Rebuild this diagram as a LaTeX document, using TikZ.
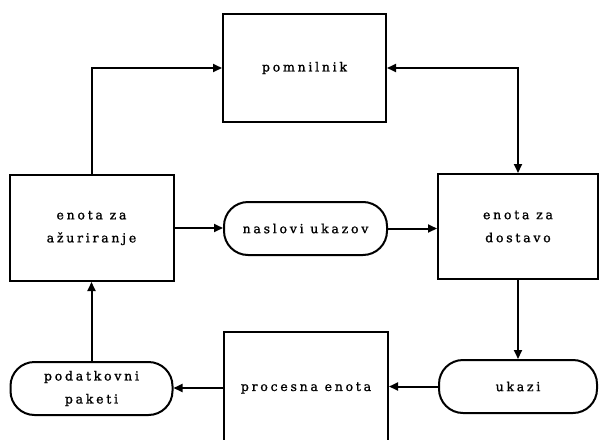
\documentclass[tikz,border=0pt]{standalone}
\usepackage{fontspec}
\setmainfont{DejaVu Serif}[LetterSpace=22,FakeBold=1.2]
\usetikzlibrary{arrows.meta}
\begin{document}
\begin{tikzpicture}[x=1pt,y=-1pt,
  every node/.style={font=\fontsize{12.5}{23}\selectfont, align=center, inner sep=0pt},
  box/.style={draw, line width=2pt, rectangle, minimum width=#1},
  pill/.style={draw, line width=2pt, rectangle, rounded corners=24pt, minimum height=53pt, minimum width=#1},
  conn/.style={line width=2pt, -{Triangle[length=9pt,width=8pt]}},
  both/.style={line width=2pt, {Triangle[length=9pt,width=8pt]}-{Triangle[length=9pt,width=8pt]}}
]
\useasboundingbox (0,0) rectangle (599,439);
\node[box=163pt, minimum height=108pt] (mem) at (304.5,68) {pomnilnik};
\node[box=164pt, minimum height=106pt] (upd) at (91.5,228) {enota za\\ažuriranje};
\node[box=160pt, minimum height=105pt] (del) at (518,226.5) {enota za\\dostavo};
\node[pill=163pt] (nas) at (305.5,228.5) {naslovi ukazov};
\node[box=164pt, minimum height=112pt] (proc) at (306,388) {procesna enota};
\node[pill=158pt] (uk) at (518,386.5) {ukazi};
\node[pill=162pt] (pod) at (91.5,388.5) {podatkovni\\paketi};

\draw[conn] (upd.north) |- (mem.west);
\draw[both] (mem.east) -| (del.north);
\draw[conn] (upd.east) -- (upd.east -| nas.west);
\draw[conn] (nas.east) -- (nas.east -| del.west);
\draw[conn] (del.south) -- (uk.north);
\draw[conn] (uk.west) -- (uk.west -| proc.east);
\draw[conn] (proc.west) -- (proc.west -| pod.east);
\draw[conn] (pod.north) -- (upd.south);
\end{tikzpicture}
\end{document}
